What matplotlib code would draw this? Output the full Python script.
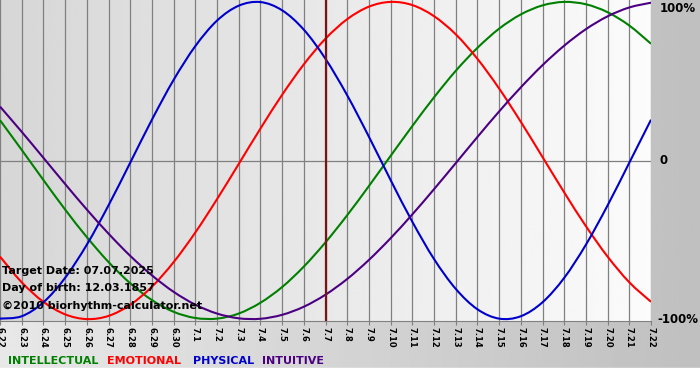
import numpy as np
import matplotlib.pyplot as plt
from matplotlib.patches import Rectangle, PathPatch
from matplotlib.path import Path

# day labels on the x axis (6.22 .. 7.22)
dates = ['6.22', '6.23', '6.24', '6.25', '6.26', '6.27', '6.28', '6.29', '6.30',
         '7.1', '7.2', '7.3', '7.4', '7.5', '7.6', '7.7', '7.8', '7.9', '7.10',
         '7.11', '7.12', '7.13', '7.14', '7.15', '7.16', '7.17', '7.18', '7.19',
         '7.20', '7.21', '7.22']
target_idx = 15  # 7.7

# values, one per day (-1 = -100%, 1 = 100%)
intellectual = [0.254, 0.067, -0.123, -0.309, -0.483, -0.640, -0.774, -0.880, -0.954, -0.993,
                -0.997, -0.965, -0.897, -0.798, -0.669, -0.516, -0.345, -0.161, 0.029, 0.217,
                0.398, 0.565, 0.710, 0.831, 0.921, 0.978, 1.000, 0.985, 0.935, 0.851, 0.736]
emotional = [-0.606, -0.768, -0.891, -0.970, -1.000, -0.980, -0.910, -0.796, -0.641, -0.454,
             -0.244, -0.022, 0.201, 0.414, 0.606, 0.768, 0.891, 0.970, 1.000, 0.980,
             0.910, 0.796, 0.641, 0.454, 0.244, 0.022, -0.201, -0.414, -0.606, -0.768, -0.891]
physical = [-0.997, -0.982, -0.894, -0.740, -0.531, -0.283, -0.014, 0.257, 0.508, 0.721,
            0.882, 0.976, 0.999, 0.947, 0.825, 0.641, 0.411, 0.150, -0.123, -0.386,
            -0.621, -0.809, -0.938, -0.997, -0.982, -0.894, -0.740, -0.531, -0.283, -0.014, 0.257]
intuitive = [0.340, 0.181, 0.017, -0.148, -0.309, -0.461, -0.601, -0.724, -0.828, -0.909,
             -0.965, -0.995, -0.998, -0.973, -0.922, -0.846, -0.747, -0.627, -0.490, -0.340,
             -0.181, -0.017, 0.148, 0.309, 0.461, 0.601, 0.724, 0.828, 0.909, 0.965, 0.995]

series = [('INTELLECTUAL', intellectual, '#008000'),
          ('EMOTIONAL', emotional, '#ff0000'),
          ('PHYSICAL', physical, '#0000cc'),
          ('INTUITIVE', intuitive, '#4b0082')]


def smooth_path(xs, ys):
    # cubic bezier through the points (catmull-rom tangents), drawn as one path
    pts = np.column_stack([xs, ys]).astype(float)
    verts = [pts[0]]
    codes = [Path.MOVETO]
    n = len(pts)
    for i in range(n - 1):
        p0 = pts[i - 1] if i > 0 else pts[i]
        p1, p2 = pts[i], pts[i + 1]
        p3 = pts[i + 2] if i + 2 < n else pts[i + 1]
        c1 = p1 + (p2 - p0) / 6
        c2 = p2 - (p3 - p1) / 6
        verts += [c1, c2, p2]
        codes += [Path.CURVE4] * 3
    return Path(verts, codes)


W, H = 700, 380
fig = plt.figure(figsize=(W / 100, H / 100), dpi=100)

# figure background: grey gradient, white strip at the very bottom
bg = fig.add_axes([0, 0, 1, 1])
bg.axis('off')
bg.imshow(np.linspace(0.91, 0.75, 256).reshape(1, -1), cmap='gray', vmin=0, vmax=1,
          aspect='auto', extent=[0, 1, 0, 1])
bg.add_patch(Rectangle((0, 0), 1, 12 / H, color='white'))
bg.set_xlim(0, 1)
bg.set_ylim(0, 1)

ax = fig.add_axes([0, 59 / H, 651 / W, 321 / H])
x = np.arange(len(dates))
ylo, yhi = -1.012, 1.012
ax.imshow(np.linspace(0.84, 0.985, 256).reshape(1, -1), cmap='gray', vmin=0, vmax=1,
          aspect='auto', extent=[0, len(dates) - 1, ylo, yhi], zorder=0)

for i in x:
    ax.axvline(i, color='#808080', lw=0.9, zorder=1)
ax.axhline(0, color='#808080', lw=0.9, zorder=1)

for name, vals, col in series:
    ax.add_patch(PathPatch(smooth_path(x, vals), facecolor='none', edgecolor=col,
                           lw=1.5, zorder=3))

ax.axvline(target_idx, color='#7a1414', lw=1.6, zorder=4)

ax.set_xlim(0, len(dates) - 1)
ax.set_ylim(ylo, yhi)
for s in ax.spines.values():
    s.set_visible(False)
ax.spines['bottom'].set_visible(True)
ax.spines['bottom'].set_color('#808080')
ax.set_yticks([])
ax.set_xticks(x)
ax.set_xticklabels(dates, rotation=270, fontsize=6, fontweight='bold')
ax.tick_params(axis='x', direction='out', length=3, color='#808080', pad=1)

# right-hand percentage labels
for yv, lab, va in [(1, '100%', 'top'), (0, '0', 'center'), (-1, '-100%', 'center')]:
    ax.text(1.013 if lab != '-100%' else 1.01, yv, lab, transform=ax.get_yaxis_transform(),
            ha='left', va=va, fontsize=8.5, fontweight='bold', clip_on=False)

# info text on the chart
fig.text(2 / W, 1 - 271 / H, 'Target Date: 07.07.2025', fontsize=8, fontweight='bold', va='center')
fig.text(2 / W, 1 - 288 / H, 'Day of birth: 12.03.1857', fontsize=8, fontweight='bold', va='center')
fig.text(2 / W, 1 - 306 / H, '\u00a92010 biorhythm-calculator.net', fontsize=8, fontweight='bold', va='center')

# colored legend words
legend_x = [8, 107, 193, 262]
for (name, vals, col), lx in zip(series, legend_x):
    fig.text(lx / W, 1 - 361 / H, name, color=col, fontsize=8, fontweight='bold', va='center')

fig.savefig('out.png', dpi=100)
